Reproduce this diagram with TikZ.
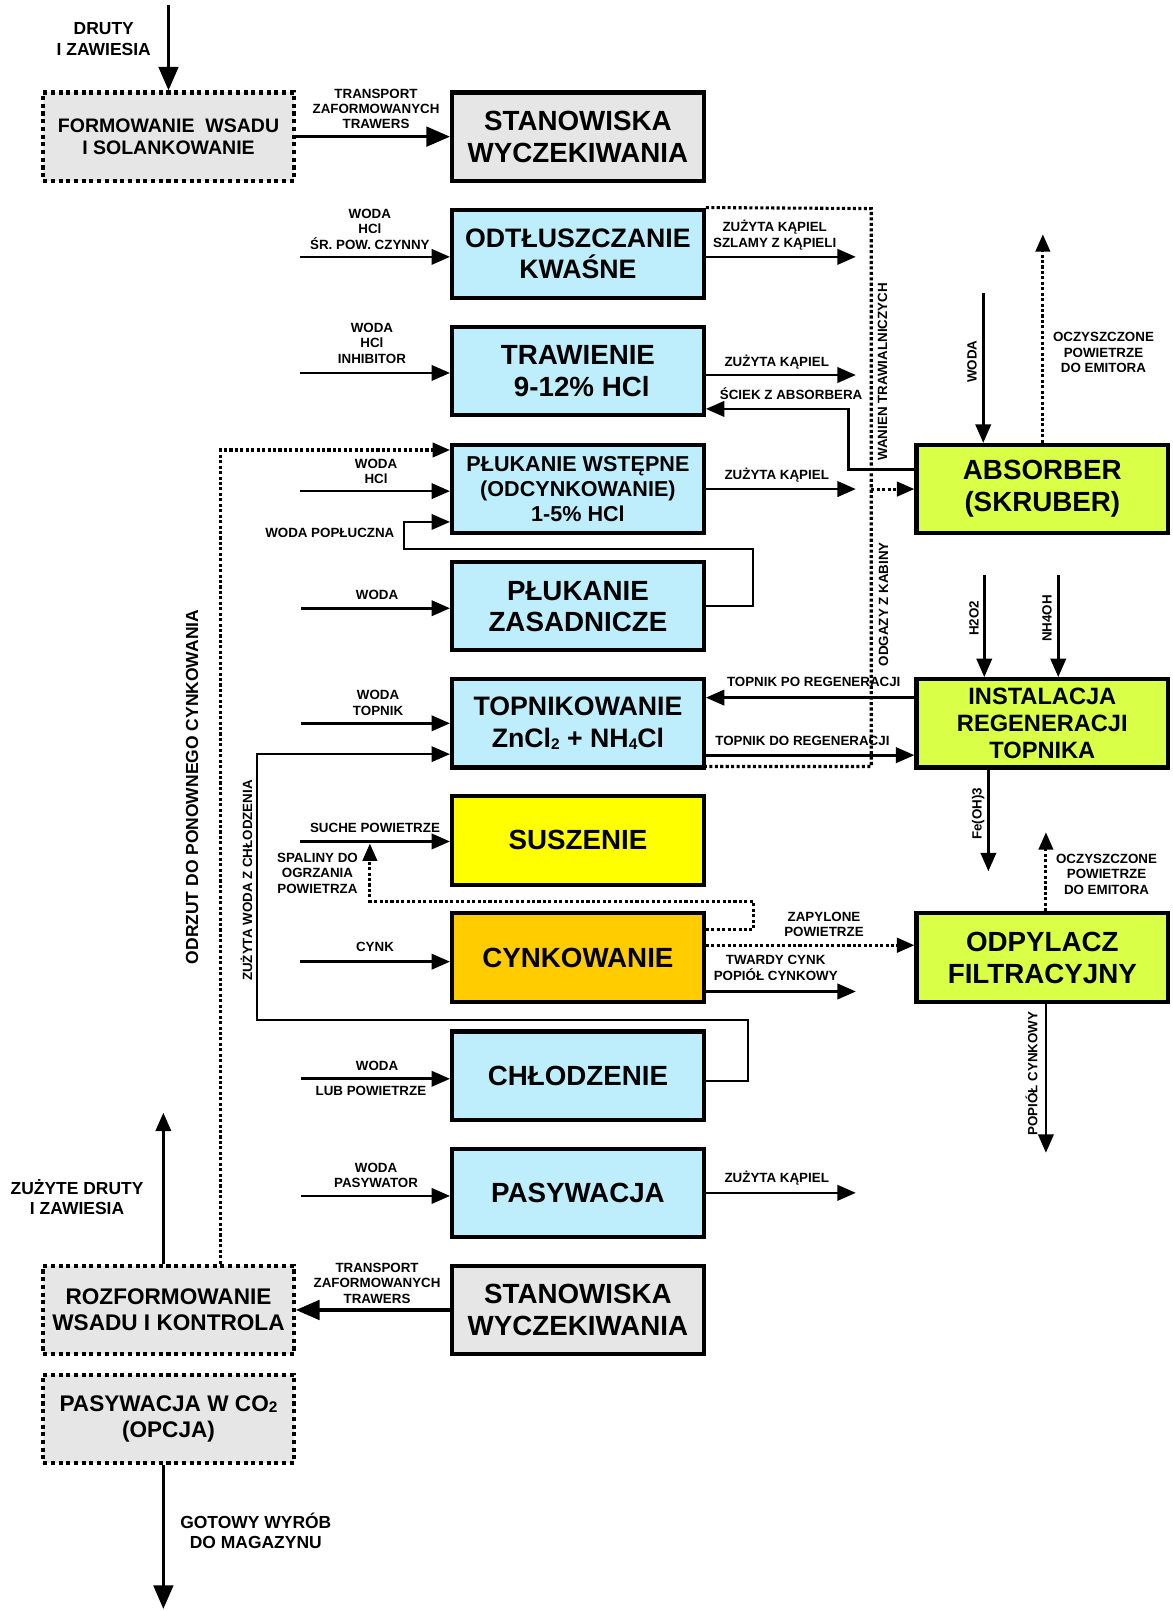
\documentclass[tikz,border=0pt]{standalone}
\usepackage{fontspec}
\setmainfont{Liberation Sans}
\usetikzlibrary{arrows.meta}
\definecolor{cyanbox}{RGB}{190,238,252}
\definecolor{limebox}{RGB}{217,255,71}
\definecolor{yellowbox}{RGB}{255,255,0}
\definecolor{orangebox}{RGB}{255,204,0}
\definecolor{graybox}{RGB}{230,230,230}
\newcommand\lowsub[1]{\raisebox{-1.5pt}{\fontsize{15}{15}\selectfont #1}}
\newcommand\fs[2]{\fontsize{#1}{#2}\selectfont\bfseries}
\begin{document}
\begin{tikzpicture}[x=1pt,y=-1pt,
  procbox/.style={draw=black, line width=4pt, minimum width=245pt, minimum height=86pt, inner sep=0pt, align=center, font=\fs{27}{31}},
  dotbox/.style={draw=black, line width=4pt, dash pattern=on 4pt off 3.5pt, fill=graybox, minimum width=244pt, minimum height=86pt, inner sep=0pt, align=center},
  arr/.style={line width=2.6pt, -{Triangle[length=18pt,width=15pt]}},
  bigarr/.style={line width=3.2pt, -{Triangle[length=23pt,width=19pt]}},
  thinarr/.style={line width=2.2pt, -{Triangle[length=18pt,width=15pt]}},
  dotl/.style={line width=3pt, dash pattern=on 3pt off 2.3pt},
  dotarr/.style={dotl, -{Triangle[length=17pt,width=14pt]}},
  lab/.style={font=\fs{13}{15}, align=center, inner sep=0pt},
  biglab/.style={font=\fs{17}{20}, align=center, inner sep=0pt}]
\useasboundingbox (0,0) rectangle (1141,1568);
\fill[white] (0,0) rectangle (1141,1568);

% ---------- boxes ----------
\node[dotbox, font=\fs{19}{22}] (form) at (164,133) {FORMOWANIE\ \ WSADU\\I SOLANKOWANIE};
\node[procbox, fill=graybox] (stan1) at (562.5,133) {STANOWISKA\\WYCZEKIWANIA};
\node[procbox, fill=cyanbox, font=\fs{26}{31}] (odt) at (562.5,247) {ODTŁUSZCZANIE\\KWAŚNE};
\node[procbox, fill=cyanbox] (traw) at (562.5,361) {TRAWIENIE\\\ 9-12\% HCl};
\node[procbox, fill=cyanbox, font=\fs{21}{24}] (plw) at (562.5,476) {PŁUKANIE WSTĘPNE\\(ODCYNKOWANIE)\\1-5\% HCl};
\node[procbox, fill=cyanbox, font=\fs{27}{30}] (plz) at (562.5,590) {PŁUKANIE\\ZASADNICZE};
\node[procbox, fill=cyanbox, font=\fs{26}{31}] (topn) at (562.5,704) {TOPNIKOWANIE\\ZnCl\lowsub{2} + NH\lowsub{4}Cl};
\node[procbox, fill=yellowbox] (susz) at (562.5,818) {SUSZENIE};
\node[procbox, fill=orangebox] (cynk) at (562.5,932) {CYNKOWANIE};
\node[procbox, fill=cyanbox] (chl) at (562.5,1047) {CHŁODZENIE};
\node[procbox, fill=cyanbox] (pas) at (562.5,1161) {PASYWACJA};
\node[procbox, fill=graybox] (stan2) at (562.5,1275) {STANOWISKA\\WYCZEKIWANIA};
\node[dotbox, font=\fs{22}{25}] (rozf) at (164,1275) {ROZFORMOWANIE\\WSADU I KONTROLA};
\node[dotbox, font=\fs{22}{26}] (co2) at (164,1381) {PASYWACJA W CO\lowsub{2}\\(OPCJA)};
\node[procbox, fill=limebox] (abs) at (1014.5,476) {ABSORBER\\(SKRUBER)};
\node[procbox, fill=limebox, font=\fs{23}{26}] (inst) at (1014.5,704) {INSTALACJA\\REGENERACJI\\TOPNIKA};
\node[procbox, fill=limebox] (odp) at (1014.5,932) {ODPYLACZ\\FILTRACYJNY};

% ---------- top ----------
\coordinate (dr) at (164,5);
\draw[bigarr] (dr) -- (form.north);
\node[biglab] (ldr) at (101,38) {DRUTY\\I ZAWIESIA};
\draw[bigarr] (form) -- (stan1);
\node[lab] (ltr1) at (366,106) {TRANSPORT\\ZAFORMOWANYCH\\TRAWERS};

% ---------- ODTLUSZCZANIE ----------
\coordinate (i1) at (292,250);
\draw[arr] (i1) -- (i1 -| odt.west);
\node[lab] (li1) at (360,223) {WODA\\HCl\\ŚR. POW. CZYNNY};
\coordinate (o1) at (833,250);
\draw[arr] (o1 -| odt.east) -- (o1);
\node[lab] (lo1) at (754,229) {ZUŻYTA KĄPIEL\\SZLAMY Z KĄPIELI};

% gas collection (dotted)
\coordinate (gTop) at (848,203);
\coordinate (gJ) at (848,476);
\coordinate (gBot) at (848,746);
\draw[dotl] (odt.north east) -- (gTop) -- (gBot) -- (gBot -| topn.east);
\draw[dotarr] (gJ) -- (gJ -| abs.west);
\node[lab, rotate=90] (lg1) at (859,362) {WANIEN TRAWIALNICZYCH};
\node[lab, rotate=90] (lg2) at (860,588) {ODGAZY Z KABINY};

% ---------- TRAWIENIE ----------
\coordinate (i2) at (292,363);
\draw[arr] (i2) -- (i2 -| traw.west);
\node[lab] (li2) at (362,334) {WODA\\HCl\\INHIBITOR};
\coordinate (o2) at (833,365);
\draw[arr] (o2 -| traw.east) -- (o2);
\node[lab] (lo2) at (756,352) {ZUŻYTA KĄPIEL};
\coordinate (s1) at (826,457);
\coordinate (s2) at (826,398);
\draw[arr] (s1 -| abs.west) -- (s1) -- (s2) -- (s2 -| traw.east);
\node[lab] (ls) at (770,383) {ŚCIEK Z ABSORBERA};

% ---------- PLUKANIE WSTEPNE ----------
\coordinate (r1) at (215,438);
\draw[dotarr] (r1 |- rozf.north) -- (r1) -- (r1 -| plw.west);
\node[biglab, rotate=90] (lr) at (187,766) {ODRZUT DO PONOWNEGO CYNKOWANIA};
\coordinate (i3) at (292,478);
\draw[arr] (i3) -- (i3 -| plw.west);
\node[lab] (li3) at (366,459) {WODA\\HCl};
\coordinate (o3) at (833,476);
\draw[arr] (o3 -| plw.east) -- (o3);
\node[lab] (lo3) at (756,462) {ZUŻYTA KĄPIEL};
\coordinate (p1) at (733,590);
\coordinate (p2) at (733,534);
\coordinate (p3) at (393,534);
\coordinate (p4) at (393,508);
\draw[thinarr] (p1 -| plz.east) -- (p1) -- (p2) -- (p3) -- (p4) -- (p4 -| plw.west);
\node[lab] (lp) at (321,519) {WODA POPŁUCZNA};

% ---------- PLUKANIE ZASADNICZE ----------
\coordinate (i4) at (293,592);
\draw[arr] (i4) -- (i4 -| plz.west);
\node[lab] (li4) at (367,579) {WODA};

% ---------- TOPNIKOWANIE ----------
\coordinate (i5) at (293,704);
\draw[arr] (i5) -- (i5 -| topn.west);
\node[lab] (li5) at (368,684) {WODA\\TOPNIK};
\coordinate (c1) at (728,1052);
\coordinate (c2) at (728,993);
\coordinate (c3) at (250,993);
\coordinate (c4) at (250,734);
\draw[thinarr] (c1 -| chl.east) -- (c1) -- (c2) -- (c3) -- (c4) -- (c4 -| topn.west);
\node[lab, rotate=90] (lc) at (240,857) {ZUŻYTA WODA Z CHŁODZENIA};
\coordinate (t1) at (800,679);
\draw[arr] (t1 -| inst.west) -- (t1 -| topn.east);
\node[lab] (lt1) at (792,664) {TOPNIK PO REGENERACJI};
\coordinate (t2) at (800,735);
\draw[arr] (t2 -| topn.east) -- (t2 -| inst.west);
\node[lab] (lt2) at (781,721) {TOPNIK DO REGENERACJI};

% ---------- SUSZENIE ----------
\coordinate (i6) at (292,819);
\draw[arr] (i6) -- (i6 -| susz.west);
\node[lab] (li6) at (365,806) {SUCHE POWIETRZE};
\coordinate (sp1) at (733,905);
\coordinate (sp2) at (733,877);
\coordinate (sp3) at (360,877);
\coordinate (sp4) at (360,821);
\draw[dotarr] (sp1 -| cynk.east) -- (sp1) -- (sp2) -- (sp3) -- (sp4);
\node[lab] (lsp) at (309,850) {SPALINY DO\\OGRZANIA\\POWIETRZA};

% ---------- CYNKOWANIE ----------
\coordinate (i7) at (292,936);
\draw[arr] (i7) -- (i7 -| cynk.west);
\node[lab] (li7) at (365,922) {CYNK};
\coordinate (z1) at (800,920);
\draw[dotarr] (z1 -| cynk.east) -- (z1 -| odp.west);
\node[lab] (lz) at (802,900) {ZAPYLONE\\POWIETRZE};
\coordinate (o7) at (833,965);
\draw[arr] (o7 -| cynk.east) -- (o7);
\node[lab] (lo7) at (755,942) {TWARDY CYNK\\POPIÓŁ CYNKOWY};

% ---------- CHLODZENIE ----------
\coordinate (i8) at (293,1050);
\draw[arr] (i8) -- (i8 -| chl.west);
\node[lab] (li8a) at (367,1037) {WODA};
\node[lab] (li8b) at (361,1062) {LUB POWIETRZE};

% ---------- PASYWACJA ----------
\coordinate (i9) at (293,1164);
\draw[arr] (i9) -- (i9 -| pas.west);
\node[lab] (li9) at (366,1144) {WODA\\PASYWATOR};
\coordinate (o9) at (833,1161);
\draw[arr] (o9 -| pas.east) -- (o9);
\node[lab] (lo9) at (756,1147) {ZUŻYTA KĄPIEL};

% ---------- bottom ----------
\draw[bigarr] (stan2) -- (rozf);
\node[lab] (ltr2) at (367,1249) {TRANSPORT\\ZAFORMOWANYCH\\TRAWERS};
\coordinate (zd) at (159,1083);
\draw[arr] (zd |- rozf.north) -- (zd);
\node[biglab] (lzd) at (75,1165) {ZUŻYTE DRUTY\\I ZAWIESIA};
\coordinate (gw) at (159,1566);
\draw[bigarr] (gw |- co2.south) -- (gw);
\node[biglab] (lgw) at (249,1490) {GOTOWY WYRÓB\\DO MAGAZYNU};

% ---------- right column ----------
\coordinate (aw) at (957,285);
\draw[arr] (aw) -- (aw |- abs.north);
\node[lab, rotate=90] (law) at (946,352) {WODA};
\coordinate (ae) at (1015,228);
\draw[dotarr] (ae |- abs.north) -- (ae);
\node[lab] (lae) at (1074,343) {OCZYSZCZONE\\POWIETRZE\\DO EMITORA};
\coordinate (h1) at (958,560);
\draw[arr] (h1) -- (h1 |- inst.north);
\node[lab, rotate=90] (lh1) at (948,602) {H2O2};
\coordinate (h2) at (1030,560);
\draw[arr] (h2) -- (h2 |- inst.north);
\node[lab, rotate=90] (lh2) at (1019,602) {NH4OH};
\coordinate (fe) at (962,848);
\draw[arr] (fe |- inst.south) -- (fe);
\node[lab, rotate=90] (lfe) at (952,792) {Fe(OH)3};
\coordinate (od1) at (1018,810);
\draw[dotarr] (od1 |- odp.north) -- (od1);
\node[lab] (lod1) at (1077,851) {OCZYSZCZONE\\POWIETRZE\\DO EMITORA};
\coordinate (pp) at (1018,1122);
\draw[arr] (pp |- odp.south) -- (pp);
\node[lab, rotate=90] (lpp) at (1004,1045) {POPIÓŁ CYNKOWY};
\end{tikzpicture}
\end{document}
